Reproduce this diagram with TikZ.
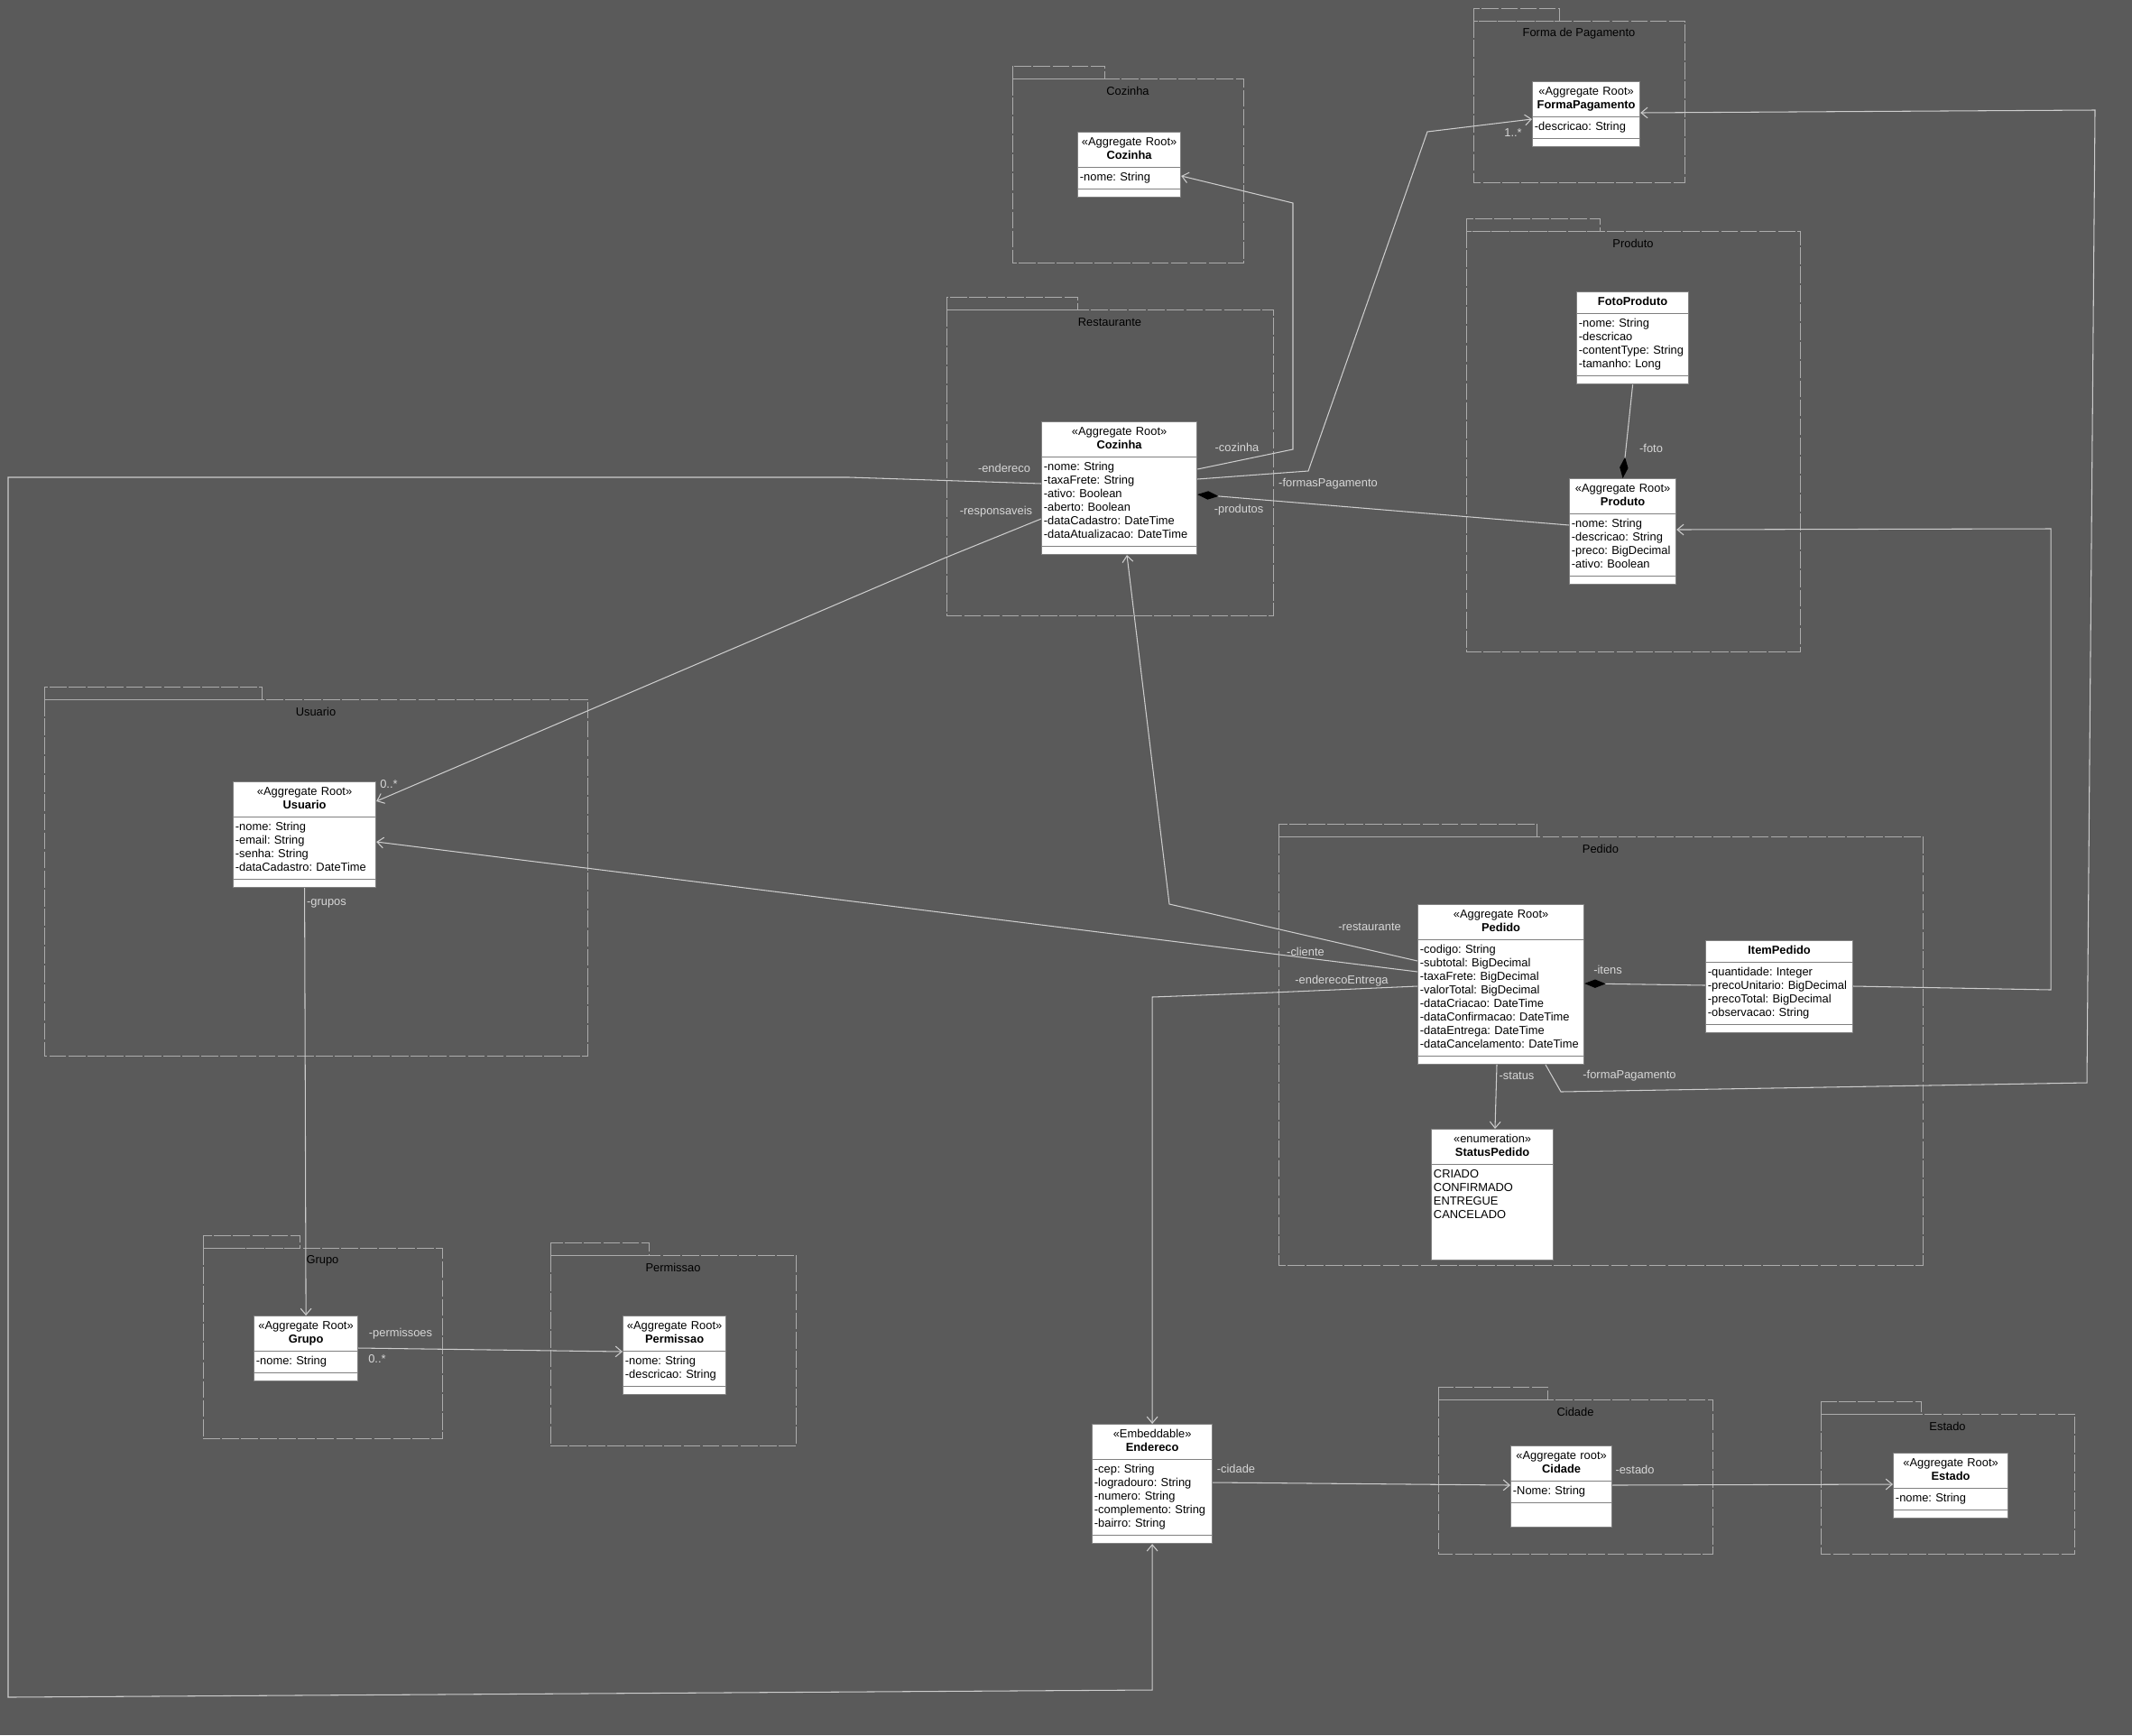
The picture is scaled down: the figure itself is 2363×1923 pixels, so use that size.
\documentclass[tikz,border=0pt]{standalone}
\usepackage{fontspec}
\setmainfont{Liberation Sans}
\frenchspacing
\usetikzlibrary{arrows.meta, shapes.multipart}
\definecolor{bgcol}{RGB}{90,90,90}
\definecolor{pkgcol}{RGB}{172,172,172}
\definecolor{linecol}{RGB}{205,205,205}
\definecolor{lblcol}{RGB}{215,215,215}
\definecolor{clsline}{RGB}{128,128,128}
\newcommand{\umlpackage}[7]{
    % #1: node name
    % #2: title
    % #3: x left, #4: y top of the tab
    % #5: x right of the tab
    % #6: x right, #7: y bottom
    \draw[pkg] (#3,#4) rectangle (#5,#4+14);
    \draw[pkg] (#3,#4+14) rectangle (#6,#7);
    \node[pkgtitle] (#1) at ({(#3+#6)/2},#4+28) {#2};
}
\newcommand{\umlclass}[6]{
    % #1: node name
    % #2: x, #3: y (north west corner)
    % #4: text width
    % #5: header
    % #6: attributes
    \node[cls, text width=#4] (#1) at (#2,#3) {\centering\strut #5\strut\par\nodepart{two}\strut #6\strut\nodepart{three}};
}

\begin{document}
\begin{tikzpicture}[x=0.03cm, y=-0.03cm]
    \tikzstyle{pkg}=[draw=pkgcol, line width=0.8pt, dash pattern=on 16pt off 2pt]
    \tikzstyle{pkgtitle}=[text=black, inner sep=0, font=\fontsize{11}{12.75}\selectfont]
    \tikzstyle{cls}=[rectangle split, rectangle split parts=3, draw=clsline, line width=1pt, fill=white,
        anchor=north west, inner xsep=2pt, inner ysep=3.4pt, rectangle split empty part height=0pt,
        font=\fontsize{11}{12.75}\selectfont]
    \tikzstyle{role}=[text=lblcol, inner sep=0, font=\fontsize{11}{12.75}\selectfont]
    \tikzstyle{assoc}=[draw=linecol, line width=0.9pt]
    \tikzstyle{nav}=[assoc, -{Straight Barb[length=6pt, width=10pt]}]
    \tikzstyle{comp}=[assoc, {Diamond[length=20pt, width=8pt, color=black, fill=black]}-]
    \tikzstyle{compend}=[assoc, -{Diamond[length=20pt, width=8pt, color=black, fill=black]}]
    \fill[bgcol] (0,0) rectangle (2363,1923);
    \useasboundingbox (0,0) rectangle (2363,1923);
    % packages
    \umlpackage{pkgCozinha}{Cozinha}{1122}{73}{1224}{1378}{291}
    \umlpackage{pkgFormaPag}{Forma de Pagamento}{1633}{9}{1728}{1867}{202}
    \umlpackage{pkgRestaurante}{Restaurante}{1049}{329}{1194}{1411}{682}
    \umlpackage{pkgProduto}{Produto}{1625}{242}{1773}{1995}{722}
    \umlpackage{pkgUsuario}{Usuario}{49}{761}{290}{651}{1170}
    \umlpackage{pkgPedido}{Pedido}{1417}{913}{1703}{2131}{1402}
    \umlpackage{pkgGrupo}{Grupo}{225}{1369}{332}{490}{1594}
    \umlpackage{pkgPermissao}{Permissao}{610}{1377}{719}{882}{1602}
    \umlpackage{pkgCidade}{Cidade}{1594}{1537}{1715}{1898}{1722}
    \umlpackage{pkgEstado}{Estado}{2018}{1553}{2129}{2299}{1722}
    % classes
    \umlclass{cozCls}{1194}{146}{3.28cm}{«Aggregate Root»\\\textbf{Cozinha}}{-nome: String}
    \umlclass{fpCls}{1698}{90}{3.43cm}{«Aggregate Root»\\\textbf{FormaPagamento}}{-descricao: String}
    \umlclass{restCls}{1154}{467}{5.02cm}{«Aggregate Root»\\\textbf{Cozinha}}{-nome: String\\-taxaFrete: String\\-ativo: Boolean\\-aberto: Boolean\\-dataCadastro: DateTime\\-dataAtualizacao:~DateTime}
    \umlclass{fotoCls}{1747}{323}{3.58cm}{\textbf{FotoProduto}}{-nome: String\\-descricao\\-contentType:~String\\-tamanho: Long}
    \umlclass{prodCls}{1739}{530}{3.40cm}{«Aggregate Root»\\\textbf{Produto}}{-nome: String\\-descricao: String\\-preco:~BigDecimal\\-ativo: Boolean}
    \umlclass{usuCls}{258}{866}{4.60cm}{«Aggregate Root»\\\textbf{Usuario}}{-nome: String\\-email: String\\-senha: String\\-dataCadastro:~DateTime}
    \umlclass{pedCls}{1571}{1002}{5.38cm}{«Aggregate Root»\\\textbf{Pedido}}{-codigo: String\\-subtotal: BigDecimal\\-taxaFrete: BigDecimal\\-valorTotal: BigDecimal\\-dataCriacao: DateTime\\-dataConfirmacao: DateTime\\-dataEntrega: DateTime\\-dataCancelamento:~DateTime}
    \umlclass{itemCls}{1890}{1042}{4.75cm}{\textbf{ItemPedido}}{-quantidade: Integer\\-precoUnitario:~BigDecimal\\-precoTotal: BigDecimal\\-observacao: String}
    \umlclass{endCls}{1210}{1578}{3.85cm}{«Embeddable»\\\textbf{Endereco}}{-cep: String\\-logradouro: String\\-numero: String\\-complemento:~String\\-bairro: String}
    \umlclass{estCls}{2098}{1610}{3.67cm}{«Aggregate Root»\\\textbf{Estado}}{-nome: String}
    \umlclass{grpCls}{281}{1458}{3.31cm}{«Aggregate Root»\\\textbf{Grupo}}{-nome: String}
    \umlclass{permCls}{690}{1458}{3.28cm}{«Aggregate Root»\\\textbf{Permissao}}{-nome: String\\-descricao: String}
    \node[cls, text width=3.22cm] (cidCls) at (1674,1602) {\centering\strut «Aggregate root»\\\textbf{Cidade}\strut\par\nodepart{two}\strut -Nome: String\strut\nodepart{three}\rule{0pt}{15.3pt}};
    \node[cls, rectangle split parts=2, text width=3.91cm] (statusCls) at (1586,1251) {\centering\strut «enumeration»\\\textbf{StatusPedido}\strut\par\nodepart{two}\strut CRIADO\\CONFIRMADO\\ENTREGUE\\CANCELADO\rule[-35.3pt]{0pt}{35.3pt}};
    % associations of Restaurante
    \draw[nav] (restCls.east |- 0,520) -- (1433,498) -- (1433,225) -- (cozCls.east |- 0,195);
    \draw[nav] (restCls.east |- 0,531) -- (1450,522) -- (1582,146) -- (fpCls.west |- 0,132);
    \draw[comp] (restCls.east |- 0,548) -- (prodCls.west |- 0,582);
    \draw[nav] (restCls.west |- 0,536) -- (941,529) -- (9,529) -- (9,1881) -- (endCls.south |- 0,1873) -- (endCls.south);
    \draw[nav] (restCls.west |- 0,575) -- (1048,618) -- (usuCls.east |- 0,888);
    \node[role] (lblCozinha) at (1371,496) {-cozinha};
    \node[role] (lblFormas) at (1472,536) {-formasPagamento};
    \node[role] (lblFormasMult) at (1677,147) {1..*};
    \node[role] (lblProdutos) at (1373,565) {-produtos};
    \node[role] (lblEndereco) at (1113,519) {-endereco};
    \node[role] (lblResp) at (1104,567) {-responsaveis};
    \node[role] (lblRespMult) at (431,869) {0..*};
    % Produto and Usuario
    \draw[compend] (fotoCls.south) -- (prodCls.north);
    \node[role] (lblFoto) at (1830,497) {-foto};
    \draw[nav] (usuCls.south) -- (grpCls.north);
    \node[role] (lblGrupos) at (362,1001) {-grupos};
    \draw[nav] (grpCls.east |- 0,1494) -- (permCls.west |- 0,1498);
    \node[role] (lblPerm) at (444,1478) {-permissoes};
    \node[role] (lblPermMult) at (418,1506) {0..*};
    % associations of Pedido
    \draw[nav] (pedCls.west |- 0,1065) -- (1296,1002) -- (restCls.south -| 1249,0);
    \draw[nav] (pedCls.west |- 0,1077) -- (1410,1057) -- (usuCls.east |- 0,933);
    \draw[nav] (pedCls.west |- 0,1093) -- (1410,1100) -- (endCls.north |- 0,1105) -- (endCls.north);
    \draw[comp] (pedCls.east |- 0,1090) -- (itemCls.west |- 0,1092);
    \draw[nav] (itemCls.east |- 0,1093) -- (2273,1097) -- (2273,586) -- (prodCls.east |- 0,587);
    \draw[nav] (pedCls.south -| 1659,0) -- (statusCls.north -| 1657,0);
    \draw[nav] (pedCls.south -| 1713,0) -- (1730,1210) -- (2313,1200) -- (2322,122) -- (fpCls.east |- 0,125);
    \node[role] (lblRest) at (1518,1027) {-restaurante};
    \node[role] (lblCliente) at (1447,1055) {-cliente};
    \node[role] (lblEntrega) at (1487,1087) {-enderecoEntrega};
    \node[role] (lblItens) at (1782,1075) {-itens};
    \node[role] (lblStatus) at (1681,1192) {-status};
    \node[role] (lblFormaPag) at (1806,1192) {-formaPagamento};
    % Endereco, Cidade and Estado
    \draw[nav] (endCls.east |- 0,1643) -- (cidCls.west |- 0,1646);
    \draw[nav] (cidCls.east |- 0,1646) -- (estCls.west |- 0,1645);
    \node[role] (lblCidade) at (1370,1628) {-cidade};
    \node[role] (lblEstado) at (1812,1629) {-estado};
\end{tikzpicture}
\end{document}
